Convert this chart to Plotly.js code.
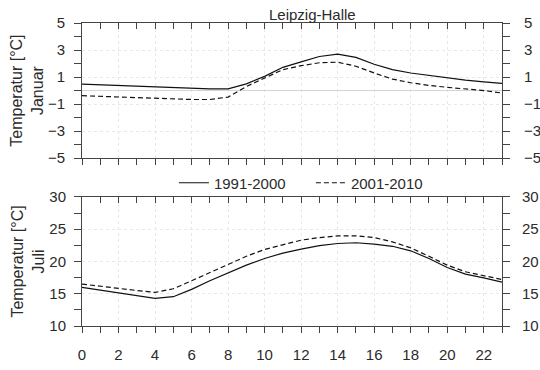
<!DOCTYPE html>
<html>
<head>
<meta charset="utf-8">
<script src="https://cdn.plot.ly/plotly-3.0.1.min.js"></script>
<style>html,body{margin:0;padding:0;background:#fff;}#chart{width:540px;height:370px;}</style>
</head>
<body>
<div id="chart"></div>
<script>
const hours = [0,1,2,3,4,5,6,7,8,9,10,11,12,13,14,15,16,17,18,19,20,21,22,23];
const janP1 = [0.48,0.43,0.38,0.34,0.31,0.24,0.16,0.13,0.13,0.5,1.05,1.72,2.12,2.52,2.7,2.46,1.95,1.55,1.3,1.12,0.93,0.78,0.65,0.53];
const janP2 = [-0.38,-0.43,-0.48,-0.53,-0.58,-0.62,-0.66,-0.66,-0.48,0.3,0.95,1.55,1.84,2.06,2.1,1.8,1.3,0.85,0.58,0.38,0.24,0.12,0.0,-0.18];
const julP1 = [16.0,15.57,15.15,14.74,14.28,14.54,15.67,17.0,18.25,19.43,20.46,21.3,21.9,22.45,22.78,22.9,22.7,22.35,21.65,20.46,19.07,18.04,17.47,16.8];
const julP2 = [16.5,16.13,15.8,15.5,15.2,15.77,17.0,18.25,19.5,20.8,21.86,22.6,23.3,23.7,23.97,23.97,23.7,23.04,22.1,20.8,19.43,18.4,17.8,17.2];
const seriesNames = ['1991-2000','2001-2010'];
const title = 'Leipzig-Halle';
const yTitleJan = 'Temperatur [°C]<br>Januar';
const yTitleJul = 'Temperatur [°C]<br>Juli';

const fam = 'Liberation Sans, Arial, sans-serif';
const font = {family: fam, size: 15, color: '#2b2b2b'};
const titleFont = {family: fam, size: 16, color: '#2b2b2b'};
const solid = {color: '#111', width: 1.2};
const dashed = {color: '#111', width: 1.2, dash: '5px,3px'};
const ghost = {color: 'rgba(0,0,0,0)', width: 0};
const axCol = '#444';
const gridCol = '#e8e8e8';

const traces = [
  {x: hours, y: janP1, mode: 'lines', line: solid, name: seriesNames[0], legendgroup: 'a', xaxis: 'x', yaxis: 'y'},
  {x: hours, y: janP2, mode: 'lines', line: dashed, name: seriesNames[1], legendgroup: 'b', xaxis: 'x', yaxis: 'y'},
  {x: hours, y: julP1, mode: 'lines', line: solid, name: seriesNames[0], legendgroup: 'a', showlegend: false, xaxis: 'x2', yaxis: 'y2'},
  {x: hours, y: julP2, mode: 'lines', line: dashed, name: seriesNames[1], legendgroup: 'b', showlegend: false, xaxis: 'x2', yaxis: 'y2'},
  // transparent carriers for the top/right mirror axes
  {x: hours, y: janP1, mode: 'lines', line: ghost, showlegend: false, hoverinfo: 'skip', xaxis: 'x3', yaxis: 'y3'},
  {x: hours, y: julP1, mode: 'lines', line: ghost, showlegend: false, hoverinfo: 'skip', xaxis: 'x4', yaxis: 'y4'}
];

function xBottom(anchor, labels) {
  return {
    anchor: anchor, domain: [0, 1], range: [0, 23], dtick: 2, tick0: 0,
    ticks: 'outside', ticklen: 6, tickcolor: axCol,
    minor: {dtick: 1, ticks: 'outside', ticklen: 6, tickcolor: axCol, showgrid: false},
    showline: true, linecolor: axCol, linewidth: 1, mirror: true,
    showgrid: true, gridcolor: gridCol, griddash: 'dot', zeroline: false,
    showticklabels: labels, tickfont: font, ticklabelstandoff: 9
  };
}
function xTop(over, anchor) {
  return {
    overlaying: over, matches: over, side: 'top', anchor: anchor, range: [0, 23], dtick: 2, tick0: 0,
    ticks: 'inside', ticklen: 6, tickcolor: axCol,
    minor: {dtick: 1, ticks: 'inside', ticklen: 6, tickcolor: axCol, showgrid: false},
    showline: false, showgrid: false, zeroline: false, showticklabels: false
  };
}

const layout = {
  width: 540, height: 370,
  margin: {l: 82, r: 38, t: 23, b: 44},
  paper_bgcolor: '#fff', plot_bgcolor: '#fff',
  font: font,
  showlegend: true,
  legend: {orientation: 'h', x: 0.545, xanchor: 'center', y: 0.472, yanchor: 'middle', font: font,
           bgcolor: 'rgba(0,0,0,0)', entrywidth: 92, entrywidthmode: 'pixels'},
  xaxis: xBottom('y', false),
  xaxis2: xBottom('y2', true),
  xaxis3: xTop('x', 'y'),
  xaxis4: xTop('x2', 'y2'),
  yaxis: {
    domain: [0.554, 1], anchor: 'x', range: [-5, 5], dtick: 2, tick0: -5,
    ticks: 'outside', ticklen: 7, tickcolor: axCol,
    minor: {dtick: 1, tick0: 0, ticks: 'outside', ticklen: 7, tickcolor: axCol, showgrid: false},
    showline: true, linecolor: axCol, mirror: 'allticks',
    showgrid: true, gridcolor: gridCol, griddash: 'dot',
    zeroline: true, zerolinecolor: '#d4d4d4', zerolinewidth: 1,
    tickfont: font, ticklabelstandoff: 6,
    title: {text: yTitleJan, font: titleFont, standoff: 0}
  },
  yaxis3: {
    overlaying: 'y', matches: 'y', side: 'right', anchor: 'x3', range: [-5, 5], dtick: 2, tick0: -5,
    ticks: 'outside', ticklen: 7, tickcolor: 'rgba(0,0,0,0)',
    showline: false, showgrid: false, zeroline: false, tickfont: font, ticklabelstandoff: 11
  },
  yaxis2: {
    domain: [0, 0.426], anchor: 'x2', range: [10, 30], dtick: 5, tick0: 10,
    ticks: 'outside', ticklen: 7, tickcolor: axCol,
    minor: {dtick: 2.5, ticks: 'outside', ticklen: 7, tickcolor: axCol, showgrid: false},
    showline: true, linecolor: axCol, mirror: 'allticks',
    showgrid: true, gridcolor: gridCol, griddash: 'dot', zeroline: false,
    tickfont: font, ticklabelstandoff: 5,
    title: {text: yTitleJul, font: titleFont, standoff: 0}
  },
  yaxis4: {
    overlaying: 'y2', matches: 'y2', side: 'right', anchor: 'x4', range: [10, 30], dtick: 5, tick0: 10,
    ticks: 'outside', ticklen: 7, tickcolor: 'rgba(0,0,0,0)',
    showline: false, showgrid: false, zeroline: false, tickfont: font, ticklabelstandoff: 9
  },
  annotations: [
    {text: title, xref: 'paper', yref: 'paper', x: 0.548, y: 1, yanchor: 'bottom', xanchor: 'center',
     showarrow: false, font: font, yshift: -2}
  ]
};

Plotly.newPlot('chart', traces, layout, {displayModeBar: false, staticPlot: true});
</script>
</body>
</html>
